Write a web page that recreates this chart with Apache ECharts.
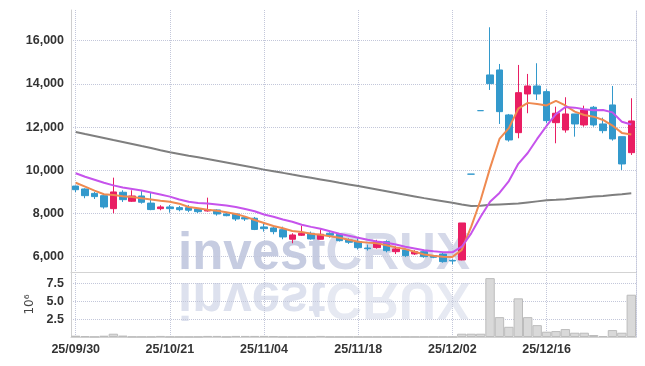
<!DOCTYPE html>
<html><head><meta charset="utf-8">
<script src="https://cdn.jsdelivr.net/npm/echarts@6/dist/echarts.min.js"></script>
<style>html,body{margin:0;padding:0;background:#fff}#c{width:645px;height:366px}</style>
</head><body><div id="c"></div>
<script>
const dates = ["25/09/30","25/10/01","25/10/02","25/10/10","25/10/13","25/10/14","25/10/15","25/10/16","25/10/17","25/10/20",
"25/10/21","25/10/22","25/10/23","25/10/24","25/10/27","25/10/28","25/10/29","25/10/30","25/10/31","25/11/03",
"25/11/04","25/11/05","25/11/06","25/11/07","25/11/10","25/11/11","25/11/12","25/11/13","25/11/14","25/11/17",
"25/11/18","25/11/19","25/11/20","25/11/21","25/11/24","25/11/25","25/11/26","25/11/27","25/11/28","25/12/01",
"25/12/02","25/12/03","25/12/04","25/12/05","25/12/08","25/12/09","25/12/10","25/12/11","25/12/12","25/12/15",
"25/12/16","25/12/17","25/12/18","25/12/19","25/12/22","25/12/23","25/12/24","25/12/26","25/12/29","25/12/30"];
const opens = [9270,9135,8930,8824,8222,8982,8565,8810,8480,8222,
8301,8270,8270,8208,8116,8162,7977,7977,7806,7778,
7375,7330,7250,6806,6991,7083,6806,7083,7037,6773,
6695,6400,6417,6695,6231,6310,6125,6231,6046,6125,
5830,5847,9820,12760,14413,14644,12561,11741,13533,13903,
13640,12204,11866,12607,12098,12917,12144,13024,11556,10815];
const closes = [9100,8824,8780,8301,8996,8639,8810,8519,8180,8301,
8222,8176,8150,8083,8176,7977,7898,7745,7745,7260,
7296,7158,6912,7005,7083,6820,7037,6991,6741,6667,
6417,6370,6695,6278,6356,6046,6231,6000,5972,5769,
5800,7560,9820,12760,14010,12714,11403,13593,13903,13533,
12297,12640,12607,12144,12792,12098,11834,11450,10292,12283];
const lows = [8990,8704,8670,8222,8009,8533,8533,8454,8150,8148,
8037,8100,8060,8023,8083,7898,7870,7653,7653,7230,
7158,7037,6806,6620,6958,6790,6790,6880,6700,6590,
6330,6280,6370,6200,6120,5980,6080,5950,5930,5720,
5650,5830,9820,12760,13718,12144,11325,11482,12640,13255,
12176,11250,11741,11556,12019,12019,11713,11371,10014,10709];
const highs = [9290,9165,9000,8889,9658,9074,9074,9088,8960,8380,
8394,8350,8394,8232,8732,8190,8037,8023,7884,7838,
7528,7375,7389,7083,7435,7160,7269,7130,7080,6850,
6850,6560,6780,6760,6480,6370,6300,6260,6080,6170,
5880,7560,9820,12760,16620,14922,12607,14876,14460,14955,
13750,12945,13380,12607,12991,12977,12436,13903,11556,13334];
const ma5 = [9420,9240,9056,8890,8857,8800,8764,8704,8650,8590,
8546,8454,8300,8240,8176,8130,8056,7977,7852,7700,
7560,7421,7315,7190,7140,7060,7010,6950,6880,6780,
6690,6650,6620,6530,6430,6350,6230,6100,6040,6000,
5990,6310,7390,8625,10100,11450,11950,12850,13120,13070,
13000,13215,13000,12713,12561,12482,12329,12070,11730,11660];
const ma20 = [9860,9700,9560,9420,9300,9200,9130,9060,8970,8880,
8780,8650,8540,8490,8460,8420,8370,8300,8210,8100,
7950,7850,7720,7620,7480,7380,7290,7180,7060,6970,
6880,6780,6700,6640,6560,6460,6380,6300,6250,6210,
6200,6460,7080,7850,8540,8950,9500,10300,10800,11450,
12050,12600,12930,12900,12820,12780,12790,12680,12250,12120];
const ma120 = [11775,11680,11590,11495,11400,11310,11215,11120,11030,10930,
10835,10755,10675,10600,10520,10440,10360,10280,10200,10115,
10030,9955,9880,9800,9725,9650,9575,9500,9420,9345,
9270,9190,9110,9030,8950,8870,8790,8710,8640,8570,
8500,8420,8350,8360,8400,8420,8440,8460,8510,8560,
8610,8630,8660,8700,8740,8780,8810,8850,8890,8940];
const volumes = [0.18,0.12,0.05,0.18,0.46,0.2,0.06,0.05,0.05,0.15,
0.05,0.04,0.04,0.05,0.15,0.15,0.05,0.15,0.15,0.15,
0.15,0.12,0.04,0.04,0.04,0.04,0.15,0.04,0.04,0.04,
0.04,0.04,0.04,0.04,0.04,0.04,0.04,0.04,0.04,0.04,
0.04,0.46,0.46,0.46,8.24,2.78,1.43,5.41,2.78,1.66,
0.74,0.83,1.11,0.6,0.6,0.28,0.14,0.97,0.6,5.92];
const priceTicks = [6000,8000,10000,12000,14000,16000];
const volumeTicks = [2.5,5,7.5];

const UP = '#e91e63', DOWN = '#3399cc';
const labelFont = {fontFamily:'"Liberation Sans",Arial,sans-serif', fontSize:12.5, fontWeight:'bold', color:'#333'};
const gridLine = {show:true, lineStyle:{type:'dotted', color:'#c3c7da', width:1}};
const chart = echarts.init(document.getElementById('c'), null, {renderer:'canvas'});
const WMF = 'bold 51px "Liberation Sans", Arial, sans-serif';
const wmRich = {
  a:{font:WMF, fill:'#c6cce1'},
  b:{font:WMF, fill:'#d5d9e9'}
};
const wmRich2 = {
  a:{font:WMF, fill:'#dde1ee'},
  b:{font:WMF, fill:'#e6e9f2'}
};
chart.setOption({
  animation:false,
  backgroundColor:'#fff',
  graphic:[
    {type:'text', z:-10, x:178, y:255, style:{text:'{a|invest}{b|CRUX}', rich:wmRich, verticalAlign:'middle'}},
    {type:'group', z:-10, x:0, y:552, scaleY:-1, children:[
      {type:'text', z:-10, x:178, y:255, style:{text:'{a|invest}{b|CRUX}', rich:wmRich2, verticalAlign:'middle'}}
    ]}
  ],
  grid:[
    {left:71, right:9, top:10, height:262},
    {left:71, right:9, top:272, height:65}
  ],
  xAxis:[
    {type:'category', gridIndex:0, data:dates, boundaryGap:true,
     axisLine:{show:true, lineStyle:{color:'#d3d3d3'}}, axisTick:{show:false}, axisLabel:{show:false},
     splitLine:Object.assign({interval:9, alignWithLabel:true}, gridLine)},
    {type:'category', gridIndex:1, data:dates, boundaryGap:true,
     axisLine:{show:true, lineStyle:{color:'#d3d3d3'}}, axisTick:{show:false, interval:9, alignWithLabel:true},
     axisLabel:Object.assign({interval:9, margin:6}, labelFont),
     splitLine:Object.assign({interval:9, alignWithLabel:true}, gridLine)}
  ],
  yAxis:[
    {type:'value', gridIndex:0, min:5290, max:17420, scale:true,
     axisLine:{show:true, lineStyle:{color:'#cfcfcf'}},
     axisTick:{show:false, customValues:priceTicks},
     axisLabel:Object.assign({customValues:priceTicks, margin:7, formatter:v=>Number(v).toLocaleString('en-US')}, labelFont),
     splitLine:gridLine},
    {type:'value', gridIndex:1, min:0, max:9.1,
     name:'10\u2076', nameLocation:'middle', nameRotate:90, nameGap:25,
     nameTextStyle:{fontFamily:'"DejaVu Sans",sans-serif', fontSize:12, color:'#444'},
     axisLine:{show:true, lineStyle:{color:'#cfcfcf'}},
     axisTick:{show:false, customValues:volumeTicks},
     axisLabel:Object.assign({customValues:volumeTicks, margin:7, formatter:v=>Number(v).toFixed(1)}, labelFont),
     splitLine:gridLine},
    {type:'value', gridIndex:0, position:'right', axisLine:{show:true, lineStyle:{type:'dotted', color:'#c3c7da'}},
     axisLabel:{show:false}, axisTick:{show:false}, splitLine:{show:false}},
    {type:'value', gridIndex:1, position:'right', axisLine:{show:true, lineStyle:{type:'dotted', color:'#c3c7da'}},
     axisLabel:{show:false}, axisTick:{show:false}, splitLine:{show:false}}
  ],
  series:[
    {type:'candlestick', xAxisIndex:0, yAxisIndex:0, barWidth:7,
     data:dates.map((d,i)=>[opens[i],closes[i],lows[i],highs[i]]),
     itemStyle:{color:UP, color0:DOWN, borderColor:UP, borderColor0:DOWN, borderColorDoji:DOWN, borderWidth:1}},
    {type:'line', xAxisIndex:0, yAxisIndex:0, data:ma120, showSymbol:false, lineStyle:{color:'#7f7f7f', width:2}, z:3},
    {type:'line', xAxisIndex:0, yAxisIndex:0, data:ma5, showSymbol:false, lineStyle:{color:'#ef8a50', width:2}, z:3},
    {type:'line', xAxisIndex:0, yAxisIndex:0, data:ma20, showSymbol:false, lineStyle:{color:'#c653ec', width:2}, z:3},
    {type:'bar', xAxisIndex:1, yAxisIndex:1, data:volumes, barCategoryGap:'0%',
     itemStyle:{color:'#d9d9d9', borderColor:'#bcbcbc', borderWidth:1}}
  ]
});
</script></body></html>
